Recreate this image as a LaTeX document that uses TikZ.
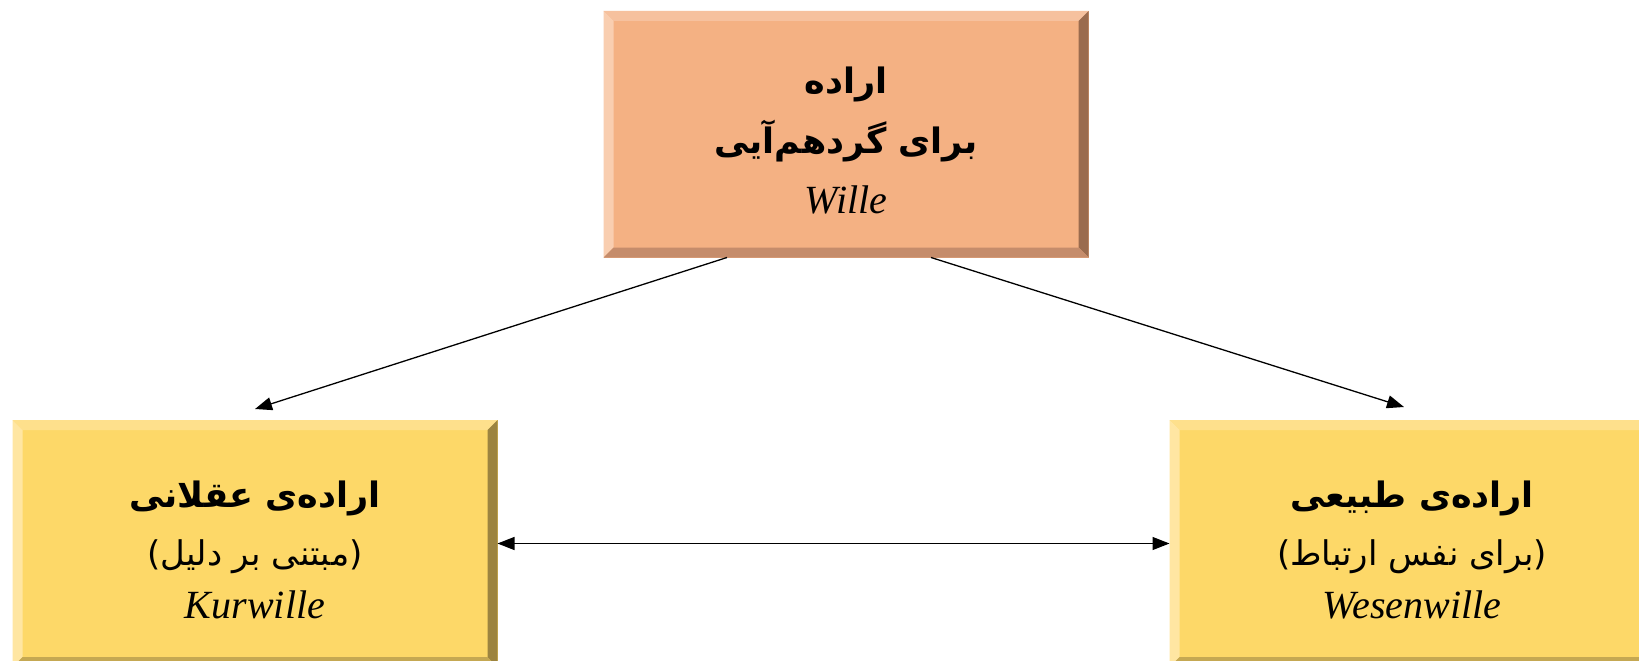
\documentclass[tikz,border=0pt]{standalone}
\usepackage{fontspec}
\usetikzlibrary{arrows.meta}
\TeXXeTstate=1
\newfontfamily\arabicfont[Script=Arabic]{DejaVu Sans}
\newfontfamily\latinfont{Liberation Serif}
\definecolor{salFill}{HTML}{F4B183}
\definecolor{salTop}{HTML}{F6C19E}
\definecolor{salLeft}{HTML}{F9CEB0}
\definecolor{salRight}{HTML}{9A6B4E}
\definecolor{salBot}{HTML}{C58C6B}
\definecolor{yelFill}{HTML}{FDD868}
\definecolor{yelTop}{HTML}{FEE08C}
\definecolor{yelLeft}{HTML}{FFE6A2}
\definecolor{yelRight}{HTML}{9C8440}
\definecolor{yelBot}{HTML}{C5A852}
\newcommand\bevbox[6]{%
  \fill[#2] (#1.north west) rectangle (#1.south east);
  \fill[#3] (#1.north west) -- (#1.north east) -- ([shift={(-10,10)}]#1.north east) -- ([shift={(10,10)}]#1.north west) -- cycle;
  \fill[#4] (#1.north west) -- ([shift={(10,10)}]#1.north west) -- ([shift={(10,-10)}]#1.south west) -- (#1.south west) -- cycle;
  \fill[#5] (#1.north east) -- (#1.south east) -- ([shift={(-10,-10)}]#1.south east) -- ([shift={(-10,10)}]#1.north east) -- cycle;
  \fill[#6] (#1.south west) -- ([shift={(10,-10)}]#1.south west) -- ([shift={(-10,-10)}]#1.south east) -- (#1.south east) -- cycle;
}
\tikzset{
  boxshape/.style={rectangle, inner sep=0pt, outer sep=0pt, minimum width=485pt, minimum height=#1},
  artitle/.style={anchor=base, inner sep=0pt, font=\arabicfont\bfseries\fontsize{35}{42}\selectfont},
  arsub/.style={anchor=base, inner sep=0pt, font=\arabicfont\fontsize{34}{40}\selectfont},
  latname/.style={anchor=base, inner sep=0pt, font=\latinfont\itshape\fontsize{40}{48}\selectfont},
  arr/.style={line width=1.3pt, -{Triangle[length=17pt,width=13pt]}},
  arrboth/.style={line width=1.3pt, {Triangle[length=17pt,width=13pt]}-{Triangle[length=17pt,width=13pt]}}
}
\begin{document}
\begin{tikzpicture}[x=1pt,y=-1pt]
\useasboundingbox (0,0) rectangle (1639,661);
\fill[white] (0,0) rectangle (1639,661);
\clip (0,0) rectangle (1639,661);
\node[boxshape=246.5pt] (top) at (846,134.25) {};
\node[boxshape=247pt] (left) at (255,543.5) {};
\node[boxshape=247pt] (right) at (1412,543.5) {};
\bevbox{top}{salFill}{salTop}{salLeft}{salRight}{salBot}
\bevbox{left}{yelFill}{yelTop}{yelLeft}{yelRight}{yelBot}
\bevbox{right}{yelFill}{yelTop}{yelLeft}{yelRight}{yelBot}
% texts
\node[artitle] (t1) at (846,94) {\beginR اراده\endR};
\node[artitle] (t2) at (846,153) {\beginR برای گردهم‌آیی\endR};
\node[latname] (t3) at (846,213) {Wille};
\node[artitle] (l1) at (255,507) {\beginR اراده‌ی عقلانی\endR};
\node[arsub] (l2) at (255,565) {)\beginR مبتنی بر دلیل\endR(};
\node[latname] (l3) at (255,618) {Kurwille};
\node[artitle] (r1) at (1412,507) {\beginR اراده‌ی طبیعی\endR};
\node[arsub] (r2) at (1412,565) {)\beginR برای نفس ارتباط\endR(};
\node[latname] (r3) at (1412,618) {Wesenwille};
% connectors
\draw[arr] ([xshift=-119pt]top.south) -- ([yshift=11pt]left.north);
\draw[arr] ([xshift=85pt]top.south) -- ([xshift=-8pt,yshift=13pt]right.north);
\draw[arrboth] (left.east) -- (right.west);
\end{tikzpicture}
\end{document}
